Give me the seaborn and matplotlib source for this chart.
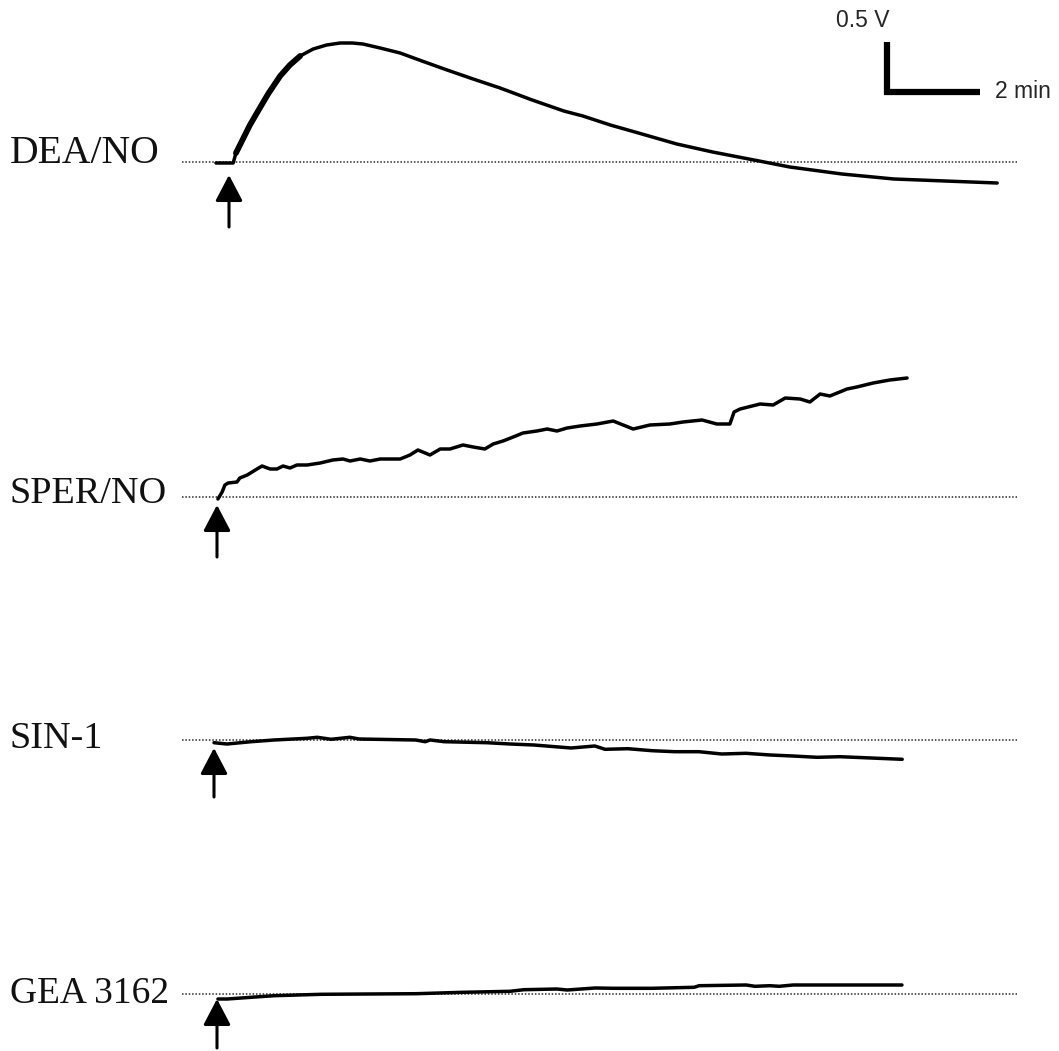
import numpy as np
import pandas as pd
import matplotlib
matplotlib.use("Agg")
import matplotlib.pyplot as plt
import seaborn as sns

# ---- recorded traces: time after injection (min) and signal change (V) ----
labels = ["DEA/NO", "SPER/NO", "SIN-1", "GEA 3162"]

dea_t = [-0.28, 0.09, 0.15, 0.30, 0.45, 0.60, 0.84, 1.10, 1.31, 1.53, 1.81,
         2.10, 2.39, 2.65, 2.88, 3.25, 3.68, 4.15, 4.69, 5.25, 5.83, 6.52,
         7.20, 7.61, 8.20, 8.73, 9.63, 10.40, 11.40, 12.06, 13.18, 14.30,
         15.40, 16.52]
dea_v = [-0.01, -0.01, 0.09, 0.23, 0.37, 0.49, 0.68, 0.86, 0.97, 1.06, 1.13,
         1.17, 1.19, 1.19, 1.18, 1.14, 1.09, 1.01, 0.92, 0.83, 0.74, 0.62,
         0.51, 0.46, 0.37, 0.30, 0.18, 0.10, 0.01, -0.05, -0.12, -0.17,
         -0.19, -0.21]

sper_t = [0.02, 0.11, 0.17, 0.24, 0.43, 0.49, 0.65, 0.86, 0.97, 1.14, 1.29,
          1.42, 1.57, 1.72, 1.94, 2.22, 2.49, 2.71, 2.86, 3.08, 3.29, 3.51,
          3.94, 4.15, 4.32, 4.58, 4.80, 5.01, 5.29, 5.51, 5.76, 5.94, 6.15,
          6.37, 6.58, 6.88, 7.10, 7.31, 7.53, 7.81, 8.17, 8.52, 8.95, 9.31,
          9.74, 10.02, 10.43, 10.75, 11.03, 11.12, 11.25, 11.68, 11.96, 12.22,
          12.54, 12.75, 12.97, 13.18, 13.55, 13.76, 14.11, 14.47, 14.84]
sper_v = [-0.02, 0.05, 0.12, 0.14, 0.15, 0.19, 0.22, 0.28, 0.31, 0.28, 0.28,
          0.31, 0.29, 0.32, 0.32, 0.34, 0.37, 0.38, 0.36, 0.38, 0.36, 0.38,
          0.38, 0.42, 0.47, 0.42, 0.48, 0.48, 0.52, 0.50, 0.48, 0.53, 0.56,
          0.60, 0.64, 0.66, 0.68, 0.66, 0.69, 0.71, 0.73, 0.76, 0.68, 0.72,
          0.73, 0.75, 0.77, 0.73, 0.73, 0.85, 0.88, 0.93, 0.92, 0.99,
          0.98, 0.95, 1.03, 1.01, 1.08, 1.10, 1.14, 1.17, 1.19]

sin_t = [0.00, 0.28, 0.80, 1.29, 2.00, 2.22, 2.52, 2.92, 3.12, 4.34, 4.54,
         4.65, 4.95, 5.87, 6.37, 6.88, 7.68, 8.19, 8.41, 8.90, 9.42, 9.91,
         10.43, 10.92, 11.44, 11.96, 12.45, 12.97, 13.46, 13.98, 14.28, 14.80]
sin_v = [-0.027, -0.04, -0.017, 0.0, 0.017, 0.027, 0.007, 0.027, 0.01, 0.0,
         -0.017, 0.0, -0.017, -0.027, -0.04, -0.05, -0.08, -0.06, -0.093,
         -0.087, -0.107, -0.117, -0.117, -0.14, -0.133, -0.15, -0.16, -0.173,
         -0.167, -0.177, -0.183, -0.193]

gea_t = [0.02, 0.22, 0.43, 0.73, 1.23, 2.24, 4.28, 5.29, 6.30, 6.60, 7.31,
         7.53, 8.13, 8.54, 9.35, 10.26, 10.37, 11.38, 11.57, 11.89, 12.09,
         12.39, 14.73]
gea_v = [-0.05, -0.05, -0.043, -0.033, -0.017, -0.003, 0.003, 0.017, 0.027,
         0.043, 0.05, 0.04, 0.06, 0.057, 0.057, 0.067, 0.083, 0.09, 0.077,
         0.083, 0.077, 0.09, 0.09]

scale_v = 0.5      # vertical calibration bar (V)
scale_t = 2.0      # horizontal calibration bar (min)

# ---- layout (minutes across, volts up) ----
W, H = 1059, 1051
px_per_min, px_per_v = 46.5, 100.0
onsets = [229 / px_per_min, 217 / px_per_min, 214 / px_per_min, 217 / px_per_min]
baselines = [(H - 162) / px_per_v, (H - 497) / px_per_v,
             (H - 740) / px_per_v, (H - 994) / px_per_v]
label_drop = [0.01, 0.06, 0.08, 0.09]
label_size = [28.5, 27.5, 27.5, 27.0]
arrow_tip = [0.13, 0.08, 0.08, 0.05]
arrow_tail = [0.65, 0.60, 0.57, 0.54]
base_x0, base_x1 = 182 / px_per_min, 1017 / px_per_min

sns.set_style("white")
fig = plt.figure(figsize=(W / 100, H / 100), dpi=100)
ax = fig.add_axes([0, 0, 1, 1])
ax.set_xlim(0, W / px_per_min)
ax.set_ylim(0, H / px_per_v)
ax.set_axis_off()

traces = [(dea_t, dea_v), (sper_t, sper_v), (sin_t, sin_v), (gea_t, gea_v)]
for name, (t, v), t0, b, dy, fs, tip, tail in zip(labels, traces, onsets,
                                                   baselines, label_drop,
                                                   label_size, arrow_tip,
                                                   arrow_tail):
    df = pd.DataFrame({"time": np.asarray(t) + t0, "signal": np.asarray(v) + b})
    # zero line
    ax.plot([base_x0, base_x1], [b, b], color="#2a2a2a", lw=1.1,
            linestyle=(0, (1, 1.2)), zorder=1)
    sns.lineplot(data=df, x="time", y="signal", ax=ax, color="black",
                 lw=2.5, sort=False, estimator=None, zorder=3)
    # injection arrow
    ax.annotate("", xy=(t0, b - tip), xytext=(t0, b - tail),
                arrowprops=dict(arrowstyle="-|>,head_length=0.8,head_width=0.42",
                                mutation_scale=20, lw=2.2, color="black",
                                shrinkA=0, shrinkB=0))
    ax.text(10 / px_per_min, b - dy, name, ha="left", va="baseline",
            fontsize=fs, family="Liberation Serif", color="#111111")

# thicker onset of the DEA/NO response
rise = pd.DataFrame({"time": np.asarray(dea_t[2:10]) + onsets[0],
                     "signal": np.asarray(dea_v[2:10]) + baselines[0]})
sns.lineplot(data=rise, x="time", y="signal", ax=ax, color="black", lw=4.2,
             sort=False, estimator=None, zorder=3)

# calibration bars
cx, cy = 887 / px_per_min, (H - 92) / px_per_v
ax.plot([cx, cx, cx + scale_t], [cy + scale_v, cy, cy], color="black", lw=4.5,
        solid_joinstyle="miter", solid_capstyle="butt")
ax.text(cx + 0.05, cy + scale_v + 0.1, f"{scale_v} V", ha="right", va="bottom",
        fontsize=16.5, family="Liberation Sans")
ax.text(cx + scale_t + 0.32, cy, f"{scale_t:.0f} min", ha="left", va="center",
        fontsize=16.5, family="Liberation Sans")

fig.savefig("out.png", dpi=100, facecolor="white")
